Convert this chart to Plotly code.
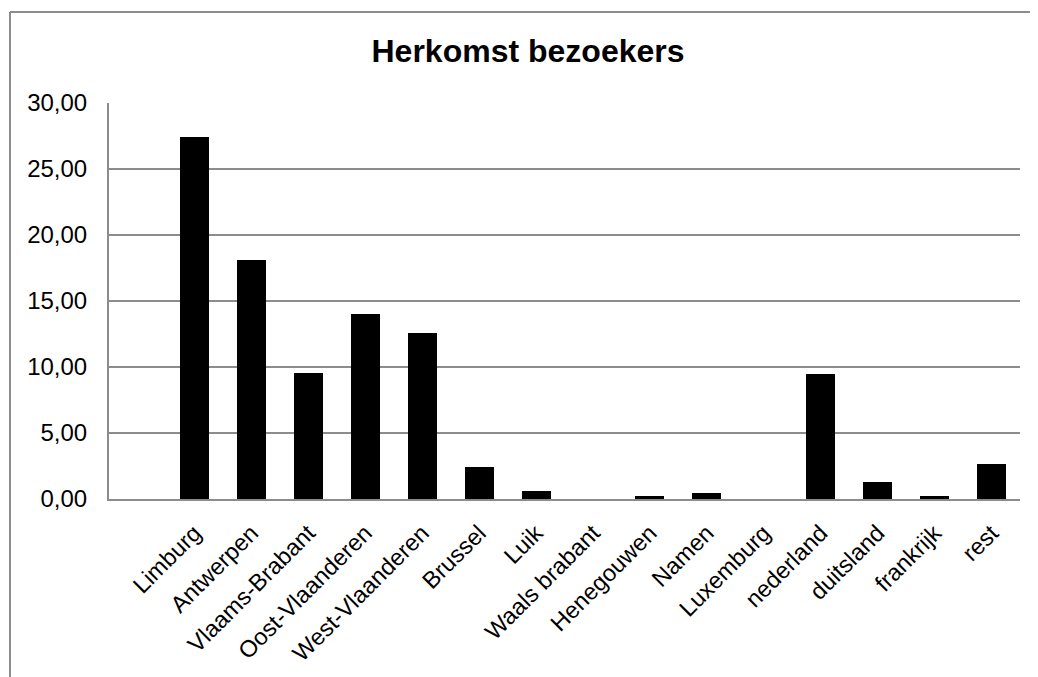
import plotly.graph_objects as go

categories = ["Limburg", "Antwerpen", "Vlaams-Brabant", "Oost-Vlaanderen", "West-Vlaanderen",
              "Brussel", "Luik", "Waals brabant", "Henegouwen", "Namen", "Luxemburg",
              "nederland", "duitsland", "frankrijk", "rest"]
values = [27.39, 18.08, 9.55, 14.02, 12.58, 2.42, 0.62, 0.0, 0.21, 0.42, 0.0, 9.47, 1.30, 0.24, 2.67]
y_ticks = [0, 5, 10, 15, 20, 25, 30]
title_text = "Herkomst bezoekers"

OFF = 8  # page body margin in the browser
W, H = 1038 - OFF, 677 - OFF
PL, PR, PT, PB = 109 - OFF, 1020 - OFF, 103 - OFF, 499 - OFF  # plot-area edges (figure px)

# first slot on the category axis is an empty category (as in the source chart)
xpos = [i + 1 for i in range(len(categories))]

fig = go.Figure(go.Bar(
    x=xpos, y=values, width=0.51,
    marker=dict(color="#000000", line=dict(width=0)),
    hoverinfo="x+y",
))

grid = "#8c8c8c"
font_family = "Liberation Sans, Arial, sans-serif"

fig.update_layout(
    width=W, height=H,
    margin=dict(l=PL, r=W - PR, t=PT, b=H - PB, pad=0),
    paper_bgcolor="white", plot_bgcolor="white",
    separators=",.",
    showlegend=False,
    font=dict(family=font_family, size=23, color="#000000"),
    title=dict(text="<b>" + title_text + "</b>", x=(528 - OFF) / W, xref="container", xanchor="center",
               y=1 - 32 / H, yref="container", yanchor="top",
               font=dict(family=font_family, size=32, color="#000000")),
    bargap=0,
)

fig.update_xaxes(
    range=[-0.5, len(categories) + 0.5],
    tickmode="array", tickvals=xpos, ticktext=categories,
    tickangle=-45, showgrid=False, zeroline=False,
    showline=True, linecolor=grid, linewidth=2,
    ticks="", automargin=False, ticklabelstandoff=9,
    tickfont=dict(size=23.5, color="#000000"),
)
fig.update_yaxes(
    range=[0, 30], tickmode="array", tickvals=y_ticks, tickformat=".2f",
    showgrid=True, gridcolor=grid, gridwidth=2,
    zeroline=False, showline=True, linecolor=grid, linewidth=2,
    ticks="", ticklabelstandoff=15, automargin=False,
    tickfont=dict(size=24, color="#000000"),
)

# outer chart border (left and top visible, extends past the right/bottom edge)
pw, ph = PR - PL, PB - PT
bx = (10 - OFF - PL) / pw
by = (PB - (12 - OFF)) / ph
fig.add_shape(type="line", xref="paper", yref="paper", x0=bx, x1=bx, y0=by, y1=-1.0,
              line=dict(color="#8c8c8c", width=2))
fig.add_shape(type="line", xref="paper", yref="paper", x0=bx, x1=1.2, y0=by, y1=by,
              line=dict(color="#8c8c8c", width=2))

fig.write_html("out.html")
